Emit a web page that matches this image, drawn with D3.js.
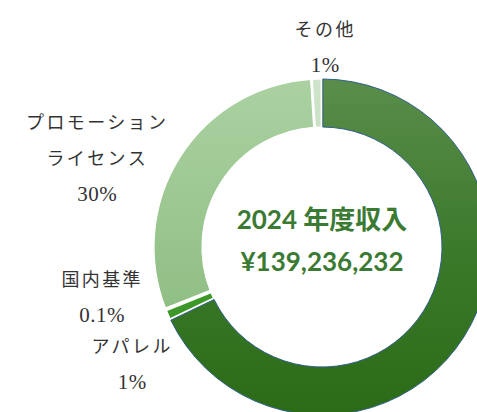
<!DOCTYPE html>
<html>
<head>
<meta charset="utf-8">
<script src="https://cdn.jsdelivr.net/npm/d3@7"></script>
<style>
  body { margin: 0; background: #fff; }
</style>
</head>
<body>
<script>
// Data (largest slice's label sits outside the visible frame)
const categories = ["ロイヤリティ", "アパレル", "国内基準", "プロモーション\nライセンス", "その他"];
const shares = [67.9, 1, 0.1, 30, 1];
const shareLabels = ["67.9%", "1%", "0.1%", "30%", "1%"];
const centerTitle = "2024 年度収入";
const centerTotal = 139236232;

// Chart dimensions
const width = 477;
const height = 412;
const cx = 322;
const cy = 247;
const outerRadius = 168;
const innerRadius = 120;

// Slice fills: [top, middle, bottom]
const fills = [
  ["#5a8d4b", "#3c7a2b", "#2b6b16"],
  ["#43a02e", "#3e9a2a", "#3a9427"],
  ["#b9d98a", "#b0d080", "#a6c878"],
  ["#abd1a2", "#97c48c", "#84b67a"],
  ["#cfe5cb", "#bcd8b6", "#a9c9a1"]
];

// Label block offsets from the centre (first line), visible slices only
const labelOffset = {
  "アパレル": [-191, 100],
  "国内基準": [-221, 33],
  "プロモーション\nライセンス": [-226, -124],
  "その他": [2, -217]
};
const lineHeight = 36;

const data = categories.map((c, i) => ({ name: c, value: shares[i], label: shareLabels[i], i }));

const svg = d3.select("body")
  .append("svg")
  .attr("width", width)
  .attr("height", height)
  .attr("viewBox", [0, 0, width, height]);

// Vertical gradients per slice (in the slice group's own coordinates)
const defs = svg.append("defs");
fills.forEach((f, i) => {
  const g = defs.append("linearGradient")
    .attr("id", `grad${i}`)
    .attr("gradientUnits", "userSpaceOnUse")
    .attr("x1", 0).attr("x2", 0)
    .attr("y1", -outerRadius).attr("y2", outerRadius);
  g.append("stop").attr("offset", "0%").attr("stop-color", f[0]);
  g.append("stop").attr("offset", "50%").attr("stop-color", f[1]);
  g.append("stop").attr("offset", "100%").attr("stop-color", f[2]);
});

const pie = d3.pie()
  .value(d => d.value)
  .sort(null);

const arc = d3.arc()
  .innerRadius(innerRadius)
  .outerRadius(outerRadius)
  .padAngle(0.008);

const arcs = pie(data);
const g = svg.append("g").attr("transform", `translate(${cx},${cy})`);

g.selectAll("path")
  .data(arcs)
  .join("path")
  .attr("d", arc)
  .attr("fill", d => `url(#grad${d.data.i})`)
  .attr("stroke", d => d.data.i === 0 ? "#2f5f8c" : "#ffffff")
  .attr("stroke-width", d => d.data.i === 0 ? 1 : 1.2)
  .attr("stroke-linejoin", "round");

// Outside labels
const labels = g.selectAll("text.label")
  .data(arcs.filter(d => labelOffset[d.data.name]))
  .join("text")
  .attr("class", "label")
  .attr("text-anchor", "middle")
  .attr("fill", "#333")
  .style("font-family", "'Liberation Serif', 'Noto Sans CJK JP', serif")
  .style("font-size", "18px")
  .style("letter-spacing", "2.4px");

labels.each(function(d) {
  const [dx, dy] = labelOffset[d.data.name];
  const lines = d.data.name.split("\n").concat(d.data.label);
  d3.select(this).selectAll("tspan")
    .data(lines)
    .join("tspan")
    .attr("x", dx + 1.2)
    .attr("y", (l, k) => dy + k * lineHeight + 6)
    .style("font-size", l => /%/.test(l) ? "21px" : null)
    .style("letter-spacing", l => /%/.test(l) ? "0.5px" : null)
    .text(l => l);
});

// Centre text
const center = g.append("g")
  .attr("fill", "#3b7a33")
  .attr("text-anchor", "middle")
  .style("font-family", "Lato, 'Noto Sans CJK JP', sans-serif")
  .style("font-weight", "bold")
  .style("font-size", "26px");

center.append("text")
  .attr("y", -18)
  .text(centerTitle);

center.append("text")
  .attr("y", 24)
  .text("¥" + d3.format(",")(centerTotal));
</script>
</body>
</html>
